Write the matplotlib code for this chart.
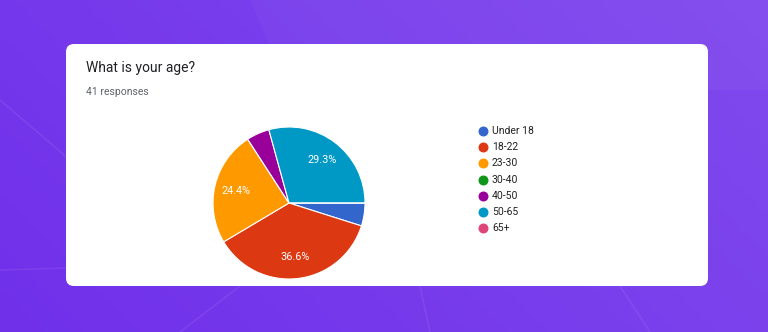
import numpy as np
import matplotlib.pyplot as plt
from matplotlib.patches import FancyBboxPatch, Polygon

plt.rcParams['font.family'] = ['Roboto', 'DejaVu Sans']

# data
categories = ['Under 18', '18-22', '23-30', '30-40', '40-50', '50-65', '65+']
counts = [2, 15, 10, 0, 2, 12, 0]
colors = ['#3366cc', '#dc3912', '#ff9900', '#109618', '#990099', '#0099c6', '#dd4477']
title = 'What is your age?'
subtitle = '41 responses'

W, H = 768, 332
fig = plt.figure(figsize=(W / 100, H / 100), dpi=100)

# background in pixel coords
bg = fig.add_axes([0, 0, 1, 1])
bg.set_xlim(0, W)
bg.set_ylim(H, 0)
bg.axis('off')

gx = np.linspace(0, 1, 200)
gy = np.linspace(0, 1, 100)
GX, GY = np.meshgrid(gx, gy)
c0 = np.array([112, 48, 234]) / 255
c1 = np.array([128, 74, 238]) / 255
t = np.clip(0.7 * GX + 0.3 * (1 - GY), 0, 1)[..., None]
img = c0 * (1 - t) + c1 * t
bg.imshow(img, extent=[0, W, H, 0], aspect='auto', zorder=0)

# faint lighter shapes
bg.add_patch(Polygon([[250, 0], [W, 0], [W, 90], [290, 90]], closed=True,
                     facecolor='white', alpha=0.03, edgecolor='none', zorder=1))
for seg in [[(0, 100), (70, 160)], [(0, 270), (66, 268)], [(180, 332), (240, 286)],
            [(420, 286), (430, 332)], [(620, 286), (650, 332)]]:
    xs, ys = zip(*seg)
    bg.plot(xs, ys, color='white', alpha=0.07, lw=1.2, zorder=1)

# card
card = FancyBboxPatch((66, 44), 642, 242, boxstyle='round,pad=0,rounding_size=8',
                      facecolor='white', edgecolor='none', zorder=2)
bg.add_patch(card)

bg.text(86, 68, title, fontsize=10, color='#202124', va='center', ha='left', zorder=3)
bg.text(86, 92, subtitle, fontsize=7.5, color='#5f6368', va='center', ha='left', zorder=3)

# legend
for i, (lab, col) in enumerate(zip(categories, colors)):
    y = 131 + i * 16.2
    bg.scatter([483], [y], s=38, color=col, zorder=3)
    bg.text(492, y, lab, fontsize=7.5, color='#222222', va='center', ha='left', zorder=3)

# pie
cx, cy, r = 289, 203, 76
ax = fig.add_axes([(cx - r) / W, (H - cy - r) / H, 2 * r / W, 2 * r / H])


def pct(p):
    return f'{p:.1f}%' if p > 10 else ''


wedges, texts, autotexts = ax.pie(counts, colors=colors, startangle=0, counterclock=False,
                                  autopct=pct, pctdistance=0.71,
                                  wedgeprops=dict(edgecolor='white', linewidth=0.8),
                                  textprops=dict(color='white', fontsize=7.8))
ax.set_xlim(-1, 1)
ax.set_ylim(-1, 1)
ax.set_aspect('equal')
ax.axis('off')

fig.savefig('out.png', dpi=100)
